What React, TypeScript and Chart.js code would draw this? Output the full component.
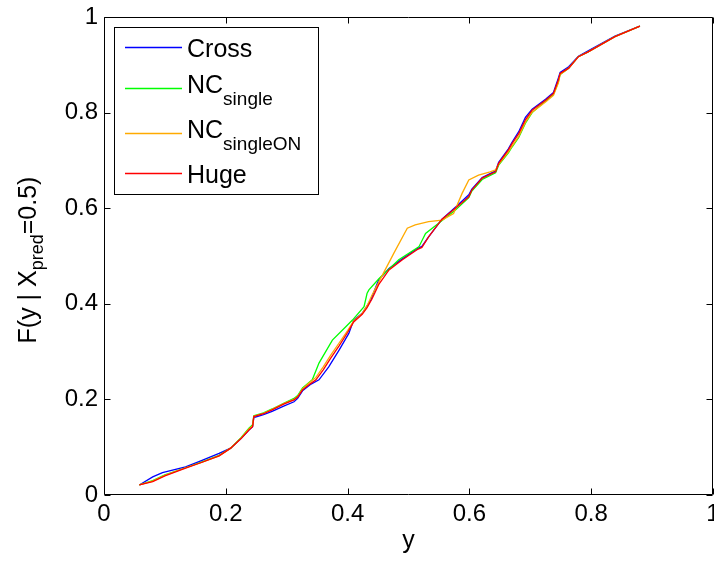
import React, { useEffect, useRef } from "react";
import { Chart, registerables } from "chart.js";

Chart.register(...registerables);

// ---- data ----
const crossX = [0.058, 0.08, 0.096, 0.134, 0.16, 0.189, 0.208, 0.225, 0.238, 0.244, 0.246, 0.262, 0.276, 0.295, 0.312, 0.318, 0.326, 0.34, 0.353, 0.369, 0.386, 0.402, 0.41, 0.424, 0.438, 0.451, 0.468, 0.49, 0.514, 0.522, 0.533, 0.555, 0.577, 0.599, 0.604, 0.621, 0.643, 0.648, 0.664, 0.67, 0.681, 0.692, 0.703, 0.725, 0.738, 0.746, 0.749, 0.763, 0.779, 0.795, 0.839, 0.88];
const crossY = [0.021, 0.038, 0.047, 0.059, 0.072, 0.087, 0.098, 0.118, 0.136, 0.143, 0.162, 0.168, 0.175, 0.186, 0.195, 0.202, 0.218, 0.232, 0.241, 0.268, 0.303, 0.338, 0.366, 0.38, 0.408, 0.45, 0.474, 0.494, 0.515, 0.52, 0.54, 0.577, 0.602, 0.628, 0.64, 0.664, 0.678, 0.696, 0.724, 0.738, 0.76, 0.79, 0.807, 0.828, 0.842, 0.872, 0.884, 0.896, 0.918, 0.929, 0.96, 0.981];

const ncSingleX = [0.058, 0.08, 0.1, 0.134, 0.16, 0.189, 0.208, 0.225, 0.238, 0.244, 0.246, 0.262, 0.276, 0.295, 0.312, 0.318, 0.326, 0.342, 0.353, 0.375, 0.397, 0.408, 0.427, 0.432, 0.435, 0.451, 0.484, 0.517, 0.528, 0.55, 0.577, 0.599, 0.604, 0.621, 0.643, 0.648, 0.664, 0.67, 0.681, 0.692, 0.703, 0.725, 0.738, 0.746, 0.749, 0.763, 0.779, 0.795, 0.839, 0.88];
const ncSingleY = [0.021, 0.03, 0.042, 0.057, 0.069, 0.083, 0.098, 0.12, 0.14, 0.147, 0.166, 0.172, 0.18, 0.192, 0.202, 0.208, 0.224, 0.241, 0.276, 0.324, 0.352, 0.366, 0.394, 0.422, 0.429, 0.452, 0.492, 0.519, 0.547, 0.569, 0.596, 0.622, 0.636, 0.66, 0.674, 0.69, 0.716, 0.728, 0.748, 0.778, 0.8, 0.824, 0.838, 0.864, 0.88, 0.893, 0.917, 0.927, 0.959, 0.981];

const ncSingleOnX = [0.058, 0.08, 0.1, 0.134, 0.16, 0.189, 0.208, 0.225, 0.238, 0.244, 0.246, 0.262, 0.276, 0.295, 0.312, 0.318, 0.326, 0.338, 0.348, 0.36, 0.372, 0.386, 0.4, 0.41, 0.424, 0.432, 0.44, 0.458, 0.476, 0.498, 0.511, 0.533, 0.555, 0.574, 0.588, 0.599, 0.615, 0.634, 0.643, 0.648, 0.664, 0.67, 0.681, 0.692, 0.703, 0.725, 0.738, 0.746, 0.749, 0.763, 0.779, 0.795, 0.839, 0.88];
const ncSingleOnY = [0.021, 0.029, 0.041, 0.057, 0.068, 0.082, 0.098, 0.119, 0.138, 0.145, 0.165, 0.171, 0.179, 0.191, 0.2, 0.206, 0.222, 0.236, 0.246, 0.268, 0.292, 0.318, 0.344, 0.364, 0.38, 0.396, 0.418, 0.462, 0.506, 0.558, 0.565, 0.572, 0.575, 0.589, 0.631, 0.659, 0.669, 0.676, 0.68, 0.692, 0.718, 0.73, 0.75, 0.78, 0.801, 0.822, 0.836, 0.862, 0.88, 0.893, 0.917, 0.927, 0.959, 0.981];

const hugeX = [0.058, 0.08, 0.1, 0.134, 0.16, 0.189, 0.208, 0.225, 0.238, 0.244, 0.246, 0.262, 0.276, 0.295, 0.312, 0.318, 0.326, 0.338, 0.348, 0.36, 0.372, 0.386, 0.4, 0.41, 0.424, 0.432, 0.44, 0.451, 0.468, 0.49, 0.514, 0.522, 0.533, 0.555, 0.577, 0.599, 0.604, 0.621, 0.643, 0.648, 0.664, 0.67, 0.681, 0.692, 0.703, 0.725, 0.738, 0.746, 0.749, 0.763, 0.779, 0.795, 0.839, 0.88];
const hugeY = [0.021, 0.028, 0.04, 0.056, 0.068, 0.082, 0.098, 0.118, 0.136, 0.143, 0.164, 0.17, 0.178, 0.19, 0.199, 0.205, 0.22, 0.232, 0.241, 0.262, 0.286, 0.312, 0.34, 0.362, 0.378, 0.392, 0.41, 0.44, 0.471, 0.492, 0.513, 0.518, 0.54, 0.577, 0.6, 0.624, 0.638, 0.663, 0.676, 0.694, 0.722, 0.735, 0.756, 0.785, 0.805, 0.826, 0.84, 0.868, 0.882, 0.893, 0.917, 0.927, 0.959, 0.981];

const seriesNames = ["Cross", "NC", "NC", "Huge"];
const seriesSubs = ["", "single", "singleON", ""];
const seriesColors = ["#0000ff", "#00ff00", "#ffaa00", "#ff0000"];
const seriesXs = [crossX, ncSingleX, ncSingleOnX, hugeX];
const seriesYs = [crossY, ncSingleY, ncSingleOnY, hugeY];

const axisMin = 0;
const axisMax = 1;
const tickStep = 0.2;
const tickLabels = ["0", "0.2", "0.4", "0.6", "0.8", "1"];
const xTitle = "y";
const yTitleParts = ["F(y | X", "pred", "=0.5)"];

const FONT = "'Liberation Sans', Arial, Helvetica, sans-serif";

const tickLabel = (_v: any, i: number) => tickLabels[i] ?? "";

const framePlugin = {
  id: "frameTicks",
  afterDatasetsDraw(chart: any) {
    const { ctx, chartArea: a, scales } = chart;
    const L = Math.round(a.left) + 0.5;
    const R = Math.round(a.right) - 0.5;
    const T = Math.round(a.top) + 0.5;
    const B = Math.round(a.bottom) - 0.5;
    const tl = 6;
    ctx.save();
    ctx.strokeStyle = "#000";
    ctx.lineWidth = 1;
    ctx.beginPath();
    ctx.rect(L, T, R - L, B - T);
    scales.x.ticks.forEach((t: any) => {
      const px = Math.round(scales.x.getPixelForValue(t.value)) + 0.5;
      ctx.moveTo(px, B);
      ctx.lineTo(px, B - tl);
      ctx.moveTo(px, T);
      ctx.lineTo(px, T + tl);
    });
    scales.y.ticks.forEach((t: any) => {
      const py = Math.round(scales.y.getPixelForValue(t.value)) + 0.5;
      ctx.moveTo(L, py);
      ctx.lineTo(L + tl, py);
      ctx.moveTo(R, py);
      ctx.lineTo(R - tl, py);
    });
    ctx.stroke();
    ctx.restore();
  },
  afterDraw(chart: any) {
    const { ctx, chartArea: a } = chart;
    ctx.save();
    // y-axis title with subscript
    const mainFont = `25px ${FONT}`;
    const subFont = `18px ${FONT}`;
    ctx.font = mainFont;
    const w1 = ctx.measureText(yTitleParts[0]).width;
    const w3 = ctx.measureText(yTitleParts[2]).width;
    ctx.font = subFont;
    const w2 = ctx.measureText(yTitleParts[1]).width;
    const total = w1 + w2 + w3;
    ctx.translate(36, (a.top + a.bottom) / 2 + 4);
    ctx.rotate(-Math.PI / 2);
    ctx.fillStyle = "#000";
    ctx.textBaseline = "alphabetic";
    ctx.textAlign = "left";
    let x0 = -total / 2;
    ctx.font = mainFont;
    ctx.fillText(yTitleParts[0], x0, 0);
    x0 += w1;
    ctx.font = subFont;
    ctx.fillText(yTitleParts[1], x0, 7);
    x0 += w2;
    ctx.font = mainFont;
    ctx.fillText(yTitleParts[2], x0, 0);
    ctx.restore();

    // legend
    ctx.save();
    const boxL = 114.5, boxT = 27.5, boxR = 318.5, boxB = 194.5;
    ctx.fillStyle = "#fff";
    ctx.fillRect(boxL, boxT, boxR - boxL, boxB - boxT);
    ctx.strokeStyle = "#000";
    ctx.lineWidth = 1;
    ctx.strokeRect(boxL, boxT, boxR - boxL, boxB - boxT);
    const lineYs = [47.5, 88.5, 133.5, 173.5];
    const baseYs = [57, 93, 138, 183];
    seriesNames.forEach((name, i) => {
      ctx.strokeStyle = seriesColors[i];
      ctx.lineWidth = 1.3;
      ctx.beginPath();
      ctx.moveTo(125, lineYs[i]);
      ctx.lineTo(182, lineYs[i]);
      ctx.stroke();
      ctx.fillStyle = "#000";
      ctx.textAlign = "left";
      ctx.textBaseline = "alphabetic";
      ctx.font = `25px ${FONT}`;
      ctx.fillText(name, 187, baseYs[i]);
      if (seriesSubs[i]) {
        const w = ctx.measureText(name).width;
        ctx.font = `19px ${FONT}`;
        ctx.fillText(seriesSubs[i], 187 + w, baseYs[i] + 11.5);
      }
    });
    ctx.restore();
  },
};

export default function App() {
  const canvasRef = useRef<HTMLCanvasElement | null>(null);

  useEffect(() => {
    if (!canvasRef.current) return;
    const datasets = seriesNames.map((name, i) => ({
      label: name + seriesSubs[i],
      data: seriesXs[i].map((x, j) => ({ x, y: seriesYs[i][j] })),
      borderColor: seriesColors[i],
      backgroundColor: seriesColors[i],
      borderWidth: 1.3,
      pointRadius: 0,
      tension: 0,
      fill: false,
      order: seriesNames.length - 1 - i,
    }));
    const chart = new Chart(canvasRef.current, {
      type: "line",
      data: { datasets },
      options: {
        responsive: false,
        animation: false,
        events: [],
        layout: { padding: { top: 17, right: 1, left: 0, bottom: 0 } },
        plugins: {
          legend: { display: false },
          tooltip: { enabled: false },
        },
        scales: {
          x: {
            type: "linear",
            min: axisMin,
            max: axisMax,
            border: { display: false },
            grid: { display: false, drawTicks: false },
            ticks: {
              stepSize: tickStep,
              color: "#000",
              font: { family: FONT, size: 24 },
              padding: 5,
              maxRotation: 0,
              autoSkip: false,
              callback: tickLabel,
            },
            title: {
              display: true,
              text: xTitle,
              color: "#000",
              font: { family: FONT, size: 25 },
              padding: { top: 0, bottom: 6 },
            },
            afterFit: (scale: any) => {
              scale.height = 67;
              scale.paddingLeft = 0;
              scale.paddingRight = 0;
            },
          },
          y: {
            type: "linear",
            min: axisMin,
            max: axisMax,
            border: { display: false },
            grid: { display: false, drawTicks: false },
            ticks: {
              stepSize: tickStep,
              color: "#000",
              font: { family: FONT, size: 24 },
              padding: 6,
              autoSkip: false,
              callback: tickLabel,
            },
            afterFit: (scale: any) => {
              scale.width = 104;
              scale.paddingTop = 0;
              scale.paddingBottom = 0;
            },
          },
        },
      },
      plugins: [framePlugin],
    });
    return () => chart.destroy();
  }, []);

  return (
    <div style={{ position: "fixed", left: 0, top: 0, width: 714, height: 562, background: "#fff" }}>
      <canvas ref={canvasRef} width={714} height={562} style={{ display: "block" }} />
    </div>
  );
}
